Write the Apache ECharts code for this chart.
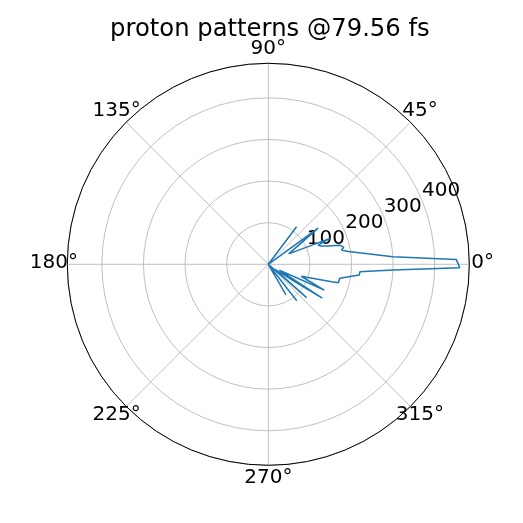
<!DOCTYPE html>
<html>
<head>
<meta charset="utf-8">
<script src="https://cdn.jsdelivr.net/npm/echarts@6/dist/echarts.min.js"></script>
<style>html,body{margin:0;padding:0;background:#fff}#c{width:523px;height:523px}</style>
</head>
<body>
<div id="c"></div>
<script>
// angle (degrees) and radius values, in drawing order
const thetaDeg = [-180, -90, -70, -64, -60, -56, -52, -46, -41, -37, -33, -32, -28, -24.7, -20, -15.3, -14.7, -11, -6.7, -4.6, -2.6, -1, 1.5, 3.5, 6, 9, 11, 12.5, 13.6, 15, 17, 19, 21, 22.8, 27, 36, 44, 53, 58, 70, 90, 180];
const radius   = [0, 0, 0, 0, 85, 0, 111, 0, 122, 20, 91, 153, 30, 148, 84, 158, 174, 175, 220, 221, 300, 460, 452, 300, 240, 195, 179, 186, 189, 178, 150, 135, 128, 161, 55, 148, 0, 113, 0, 0, 0, 0];
const angleTicks = [0, 45, 90, 135, 180, 225, 270, 315];
const radiusTicks = [100, 200, 300, 400];
const rMax = 483;

const data = thetaDeg.map((t, i) => [radius[i], ((t % 360) + 360) % 360]);
const chart = echarts.init(document.getElementById('c'), null, {renderer: 'canvas'});
const center = [268.3, 264.3];
const R = 201;
const font = {fontFamily: 'DejaVu Sans', fontSize: 20, color: '#000'};
// per-label padding so that every angle label is centred on a ring just outside the plot
const rich = {
  a0:   Object.assign({padding: [0, 0, 3, 24]}, font),
  a45:  Object.assign({padding: [0, 0, 16.5, 7.4]}, font),
  a90:  Object.assign({padding: [0, 0, 27, 0]}, font),
  a135: Object.assign({padding: [0, 1, 16.5, 0]}, font),
  a180: Object.assign({padding: [0, 11.4, 3, 0]}, font),
  a225: Object.assign({padding: [13.6, 1, 0, 0]}, font),
  a270: Object.assign({padding: [24, 0, 0, 0]}, font),
  a315: Object.assign({padding: [13.6, 0, 0, 1]}, font)
};
chart.setOption({
  animation: false,
  backgroundColor: '#fff',
  title: {
    text: 'proton patterns @79.56 fs', left: 105, top: 13,
    textStyle: {fontFamily: 'DejaVu Sans', fontSize: 24.3, fontWeight: 'normal', color: '#000'}
  },
  polar: [
    {center: center, radius: R},
    {center: center, radius: R}
  ],
  angleAxis: [
    {
      polarIndex: 0, type: 'value', min: 0, max: 360, interval: 45, startAngle: 0, clockwise: false,
      axisLine: {show: true, lineStyle: {color: '#000', width: 1}},
      axisTick: {show: false},
      axisLabel: {
        margin: -22, fontFamily: 'DejaVu Sans', fontSize: 20, color: '#000', rich: rich,
        formatter: v => angleTicks.includes(v) ? '{a' + v + '|' + v + '°}' : ''
      },
      splitLine: {show: true, lineStyle: {color: '#b0b0b0', width: 0.8}}
    },
    {
      polarIndex: 1, type: 'value', min: 0, max: 360, startAngle: 22.5, clockwise: false,
      axisLine: {show: false}, axisTick: {show: false}, axisLabel: {show: false}, splitLine: {show: false}
    }
  ],
  radiusAxis: [
    {
      polarIndex: 0, type: 'value', min: 0, max: rMax, interval: 100,
      axisLine: {show: false}, axisTick: {show: false}, axisLabel: {show: false},
      splitLine: {show: true, lineStyle: {color: '#b0b0b0', width: 0.8}}
    },
    {
      polarIndex: 1, type: 'value', min: 0, max: rMax, interval: 100,
      axisLine: {show: false}, axisTick: {show: false}, splitLine: {show: false},
      axisLabel: {
        show: true, margin: 0, fontFamily: 'DejaVu Sans', fontSize: 20, color: '#000',
        align: 'left', verticalAlign: 'bottom',
        formatter: v => radiusTicks.includes(v) ? String(v) : ''
      }
    }
  ],
  series: [{
    type: 'line', coordinateSystem: 'polar', polarIndex: 0,
    data: data, symbol: 'none', smooth: false,
    lineStyle: {color: '#1f77b4', width: 1.5}
  }]
});
</script>
</body>
</html>
